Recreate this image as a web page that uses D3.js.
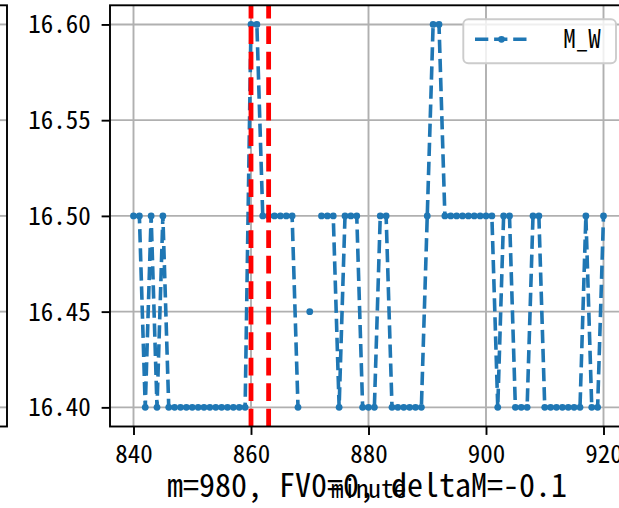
<!DOCTYPE html>
<html>
<head>
<meta charset="utf-8">
<script src="https://cdn.jsdelivr.net/npm/d3@7"></script>
<style>
  body { margin: 0; background: #fff; }
  svg { display: block; }
  text { font-family: "Noto Sans Mono CJK SC", "Noto Sans Mono CJK JP", "DejaVu Sans Mono", monospace; fill: #000; }
</style>
</head>
<body>
<div id="chart"></div>
<script>
// minute index and the M_W reading at that minute (null = no value)
const minutes = [
  840, 841, 842, 843, 844, 845, 846, 847, 848, 849, 850, 851, 852, 853, 854, 855, 856, 857, 858, 859,
  860, 861, 862, 863, 864, 865, 866, 867, 868, 869, 870, 871, 872, 873, 874, 875, 876, 877, 878, 879,
  880, 881, 882, 883, 884, 885, 886, 887, 888, 889, 890, 891, 892, 893, 894, 895, 896, 897, 898, 899,
  900, 901, 902, 903, 904, 905, 906, 907, 908, 909, 910, 911, 912, 913, 914, 915, 916, 917, 918, 919,
  920
];
const mwValues = [
  16.50, 16.50, 16.40, 16.50, 16.40, 16.50, 16.40, 16.40, 16.40, 16.40, 16.40, 16.40, 16.40, 16.40, 16.40, 16.40, 16.40, 16.40, 16.40, 16.40,
  16.60, 16.60, 16.50, 16.50, 16.50, 16.50, 16.50, 16.50, 16.40, null, 16.45, null, 16.50, 16.50, 16.50, 16.40, 16.50, 16.50, 16.50, 16.40,
  16.40, 16.40, 16.50, 16.50, 16.40, 16.40, 16.40, 16.40, 16.40, 16.40, 16.50, 16.60, 16.60, 16.50, 16.50, 16.50, 16.50, 16.50, 16.50, 16.50,
  16.50, 16.50, 16.40, 16.50, 16.50, 16.40, 16.40, 16.40, 16.50, 16.50, 16.40, 16.40, 16.40, 16.40, 16.40, 16.40, 16.40, 16.50, 16.40, 16.40,
  16.50
];
const markerMinutes = [860, 863];   // red dashed verticals
const xTicks = [840, 860, 880, 900, 920];
const yTicks = [16.40, 16.45, 16.50, 16.55, 16.60];
const seriesName = "M_W";
const xLabel = "minute";
const titleText = "m=980, FV0=0, deltaM=-0.1";

const dims = { width: 619, height: 508, left: 110, right: 627, top: 5.3, bottom: 426.5 };

const data = minutes.map((m, i) => ({ m: m, v: mwValues[i] }));

const x = d3.scaleLinear().domain([836, 924]).range([dims.left, dims.right]);
const y = d3.scaleLinear().domain([16.39, 16.61]).range([dims.bottom, dims.top]);

const svg = d3.select("#chart").append("svg")
  .attr("width", dims.width)
  .attr("height", dims.height);

// remains of the neighbouring subplot on the left
const prev = svg.append("g");
prev.selectAll("line.grid")
  .data(yTicks)
  .join("line")
  .attr("x1", -20).attr("x2", 7)
  .attr("y1", d => y(d)).attr("y2", d => y(d))
  .attr("stroke", "#b0b0b0").attr("stroke-width", 1.9);
prev.append("rect")
  .attr("x", -200).attr("y", dims.top)
  .attr("width", 207).attr("height", dims.bottom - dims.top)
  .attr("fill", "none").attr("stroke", "#000").attr("stroke-width", 1.9);

// grid
const grid = svg.append("g").attr("stroke", "#b0b0b0").attr("stroke-width", 1.9);
grid.selectAll("line.gx")
  .data(xTicks)
  .join("line")
  .attr("x1", d => x(d)).attr("x2", d => x(d))
  .attr("y1", dims.top).attr("y2", dims.bottom);
grid.selectAll("line.gy")
  .data(yTicks)
  .join("line")
  .attr("x1", dims.left).attr("x2", dims.right)
  .attr("y1", d => y(d)).attr("y2", d => y(d));

// series line + dots
const line = d3.line()
  .defined(d => d.v != null)
  .x(d => x(d.m))
  .y(d => y(d.v));

svg.append("path")
  .datum(data)
  .attr("d", line)
  .attr("fill", "none")
  .attr("stroke", "#1f77b4")
  .attr("stroke-width", 3.6)
  .attr("stroke-dasharray", "13.3,5.8");

svg.append("g")
  .selectAll("circle")
  .data(data.filter(d => d.v != null))
  .join("circle")
  .attr("cx", d => x(d.m))
  .attr("cy", d => y(d.v))
  .attr("r", 3.4)
  .attr("fill", "#1f77b4");

// red markers
svg.append("g")
  .selectAll("line")
  .data(markerMinutes)
  .join("line")
  .attr("x1", d => x(d)).attr("x2", d => x(d))
  .attr("y1", dims.bottom).attr("y2", dims.top)
  .attr("stroke", "red")
  .attr("stroke-width", 4.8)
  .attr("stroke-dasharray", "17.8,7.7");

// axes
const xAxis = svg.append("g")
  .attr("transform", `translate(0,${dims.bottom})`)
  .call(d3.axisBottom(x).tickValues(xTicks).tickSize(8.4).tickFormat(d3.format("d")));
xAxis.select(".domain").remove();
xAxis.selectAll(".tick line").attr("stroke", "#000").attr("stroke-width", 1.9);
xAxis.selectAll(".tick text")
  .attr("y", 36.8).attr("dy", null)
  .style("font-size", "25px");

const yAxis = svg.append("g")
  .attr("transform", `translate(${dims.left},0)`)
  .call(d3.axisLeft(y).tickValues(yTicks).tickSize(8.4).tickFormat(d3.format(".2f")));
yAxis.select(".domain").remove();
yAxis.selectAll(".tick line").attr("stroke", "#000").attr("stroke-width", 1.9);
yAxis.selectAll(".tick text")
  .attr("x", -19.3).attr("dy", null).attr("y", 8.4)
  .style("font-size", "25px");

// spines
svg.append("rect")
  .attr("x", dims.left).attr("y", dims.top)
  .attr("width", dims.right - dims.left).attr("height", dims.bottom - dims.top)
  .attr("fill", "none").attr("stroke", "#000").attr("stroke-width", 1.9);

// legend
const legend = svg.append("g");
legend.append("rect")
  .attr("x", 463.3).attr("y", 19.3).attr("width", 152.7).attr("height", 44).attr("rx", 5)
  .attr("fill", "#fff").attr("fill-opacity", 0.8)
  .attr("stroke", "#cccccc").attr("stroke-width", 1.9);
legend.append("line")
  .attr("x1", 475).attr("x2", 528).attr("y1", 39.3).attr("y2", 39.3)
  .attr("stroke", "#1f77b4").attr("stroke-width", 3.6).attr("stroke-dasharray", "13.3,5.8");
legend.append("circle")
  .attr("cx", 501.5).attr("cy", 39.3).attr("r", 3.4).attr("fill", "#1f77b4");
legend.append("text")
  .attr("x", 563.3).attr("y", 48.3)
  .style("font-size", "25px")
  .text(seriesName);

// title line under the axis, and the axis label drawn over it
svg.append("text")
  .attr("x", 367).attr("y", 496.7)
  .attr("text-anchor", "middle")
  .style("font-size", "32px")
  .text(titleText);
svg.append("text")
  .attr("x", 368.5).attr("y", 498.3)
  .attr("text-anchor", "middle")
  .style("font-size", "25px")
  .text(xLabel);
</script>
</body>
</html>
